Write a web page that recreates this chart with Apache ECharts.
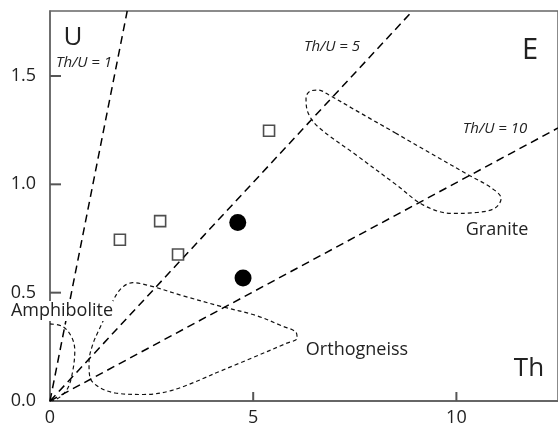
<!DOCTYPE html>
<html>
<head>
<meta charset="utf-8">
<script src="https://cdn.jsdelivr.net/npm/echarts@6/dist/echarts.min.js"></script>
<style>html,body{margin:0;padding:0;background:#fff}#c{width:558px;height:430px}</style>
</head>
<body>
<div id="c"></div>
<script>
// Samples (Th, U)
const squareTh = [1.72, 2.71, 3.15, 5.39];
const squareU  = [0.744, 0.83, 0.676, 1.247];
const circleTh = [4.62, 4.75];
const circleU  = [0.824, 0.568];

// Reference Th/U lines (end points, start at origin)
const ratioNames = ['Th/U = 1', 'Th/U = 5', 'Th/U = 10'];
const ratioEndTh = [1.9, 8.92, 12.5];
const ratioEndU  = [1.8, 1.8, 1.26];

// Field envelopes (Th, U)
const graniteTh = [8.5, 9.5, 10.31, 10.85, 11.1, 10.95, 10.5, 9.89, 9.2, 8.5, 7.5, 6.6, 6.35, 6.3, 6.4, 6.6, 6.87, 7.5, 8.5];
const graniteU  = [1.237, 1.129, 1.042, 0.985, 0.935, 0.89, 0.87, 0.866, 0.903, 1.001, 1.14, 1.265, 1.33, 1.4, 1.43, 1.435, 1.412, 1.344, 1.237];
const orthoTh = [4.0, 3.02, 2.3, 1.6, 1.2, 0.98, 0.96, 1.05, 1.23, 1.55, 1.77, 2.04, 2.45, 3.3, 4.2, 5.08, 5.7, 6.05, 6.08, 5.8, 4.91, 4.0];
const orthoU  = [0.123, 0.05, 0.03, 0.037, 0.065, 0.11, 0.18, 0.26, 0.338, 0.463, 0.523, 0.546, 0.532, 0.484, 0.437, 0.394, 0.347, 0.318, 0.29, 0.265, 0.194, 0.123];
const amphiTh = [0, 0.32, 0.54, 0.61, 0.56, 0.44, 0.25, 0.05];
const amphiU  = [0.356, 0.343, 0.292, 0.231, 0.139, 0.06, 0.019, 0];

// Axis ticks
const xTicks = [0, 5, 10];
const yTicks = [0.0, 0.5, 1.0, 1.5];

const zip = (a, b) => a.map((v, i) => [v, b[i]]);
const FONT = '"Open Sans", "Noto Sans", sans-serif';
const TXT = '#222';

const chart = echarts.init(document.getElementById('c'));

const ratioSeries = ratioNames.map((n, i) => ({
  name: n, type: 'line', symbol: 'none', silent: true,
  data: [[0, 0], [ratioEndTh[i], ratioEndU[i]]],
  lineStyle: { color: '#000', width: 1.5, type: [8, 5] }, z: 3
}));

const envelope = (name, th, u) => ({
  name, type: 'line', symbol: 'none', smooth: 0.35, silent: true,
  data: zip(th, u),
  lineStyle: { color: '#111', width: 1.2, type: [4, 3] }, z: 2
});

// Inward tick marks placed through the axis scales
const tickSeries = (data, dx, dy) => ({
  type: 'custom', silent: true, clip: false, z: 6,
  data,
  renderItem: (params, api) => {
    const p = api.coord([api.value(0), api.value(1)]);
    return { type: 'line', shape: { x1: p[0], y1: p[1], x2: p[0] + dx, y2: p[1] + dy },
      style: { stroke: '#555', lineWidth: 2 } };
  }
});

chart.setOption({
  animation: false,
  backgroundColor: '#fff',
  grid: { left: 50, top: 11, width: 509, height: 390, show: true, borderColor: '#666', borderWidth: 1.5, backgroundColor: 'transparent', z: 0 },
  xAxis: {
    type: 'value', min: 0, max: 12.5, interval: 5,
    axisLine: { show: true, onZero: false, lineStyle: { color: '#666', width: 2 } },
    axisTick: { show: false },
    axisLabel: { showMaxLabel: false, color: TXT, fontFamily: FONT, fontSize: 18, margin: 8,
      formatter: v => xTicks.includes(v) ? String(v) : '' },
    splitLine: { show: false }
  },
  yAxis: {
    type: 'value', min: 0, max: 1.8, interval: 0.5,
    axisLine: { show: true, onZero: false, lineStyle: { color: '#666', width: 1.5 } },
    axisTick: { show: false },
    axisLabel: { showMaxLabel: false, color: TXT, fontFamily: FONT, fontSize: 18, margin: 14,
      formatter: v => yTicks.some(t => Math.abs(t - v) < 1e-9) ? v.toFixed(1) : '' },
    splitLine: { show: false }
  },
  series: [
    ...ratioSeries,
    envelope('Granite', graniteTh, graniteU),
    envelope('Orthogneiss', orthoTh, orthoU),
    envelope('Amphibolite', amphiTh, amphiU),
    tickSeries(xTicks.filter(v => v > 0).map(v => [v, 0]), 0, -9),
    tickSeries(yTicks.filter(v => v > 0).map(v => [0, v]), 11, 0),
    { name: 'open', type: 'scatter', symbol: 'rect', symbolSize: 11, data: zip(squareTh, squareU),
      itemStyle: { color: '#fff', borderColor: '#222', borderWidth: 1.6 }, z: 5 },
    { name: 'filled', type: 'scatter', symbol: 'circle', symbolSize: 17, data: zip(circleTh, circleU),
      itemStyle: { color: '#000', opacity: 1 }, z: 5 }
  ],
  graphic: [
    { type: 'text', z: 100, style: { text: 'U', x: 73, y: 38, align: 'center', verticalAlign: 'middle', font: '26px ' + FONT, fill: '#222' } },
    { type: 'text', z: 100, style: { text: 'Th', x: 529, y: 369, align: 'center', verticalAlign: 'middle', font: '26px ' + FONT, fill: '#222' } },
    { type: 'text', z: 100, style: { text: 'E', x: 530, y: 51, align: 'center', verticalAlign: 'middle', font: '29px ' + FONT, fill: '#222' } },
    { type: 'text', z: 100, style: { text: 'Th/U = 1', x: 84, y: 63, align: 'center', verticalAlign: 'middle', font: 'italic 15px ' + FONT, fill: TXT } },
    { type: 'text', z: 100, style: { text: 'Th/U = 5', x: 332, y: 47, align: 'center', verticalAlign: 'middle', font: 'italic 15px ' + FONT, fill: TXT } },
    { type: 'text', z: 100, style: { text: 'Th/U = 10', x: 495, y: 129, align: 'center', verticalAlign: 'middle', font: 'italic 15px ' + FONT, fill: TXT } },
    { type: 'text', z: 100, style: { text: 'Granite', x: 497, y: 230, align: 'center', verticalAlign: 'middle', font: '18px ' + FONT, fill: TXT } },
    { type: 'text', z: 100, style: { text: 'Orthogneiss', x: 357, y: 350, align: 'center', verticalAlign: 'middle', font: '18px ' + FONT, fill: TXT } },
    { type: 'text', z: 100, style: { text: 'Amphibolite', x: 62, y: 311, align: 'center', verticalAlign: 'middle', font: '18px ' + FONT, fill: TXT, backgroundColor: '#fff', padding: [1, 0, 1, 0] } }
  ]
});
</script>
</body>
</html>
